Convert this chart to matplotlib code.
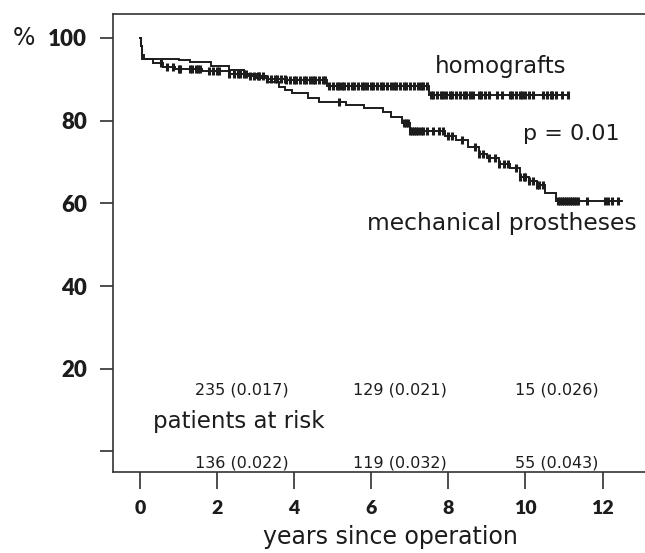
import numpy as np
import matplotlib
matplotlib.use("Agg")
import matplotlib.pyplot as plt

# ---- data ----
homograft_times = [0, 0.02, 0.05, 0.1, 0.35, 0.6, 0.9, 1.6, 2.3, 2.8, 3.3, 3.8, 4.85, 7.5]
homograft_surv = [100, 98, 96, 95, 94, 93, 92.5, 92, 91.3, 90.8, 90.2, 89.8, 88.3, 86.3]
homograft_end = 11.1
homograft_censors = [0.55, 0.7, 0.85, 1.0, 1.05, 1.3, 1.35, 1.45, 1.5, 1.55, 1.8, 1.9, 2.0,
                     2.05, 2.3, 2.45, 2.55, 2.6, 2.7, 2.75, 2.85, 2.95, 3.05, 3.1, 3.2, 3.3,
                     3.4, 3.5, 3.55, 3.65, 3.75, 3.8, 3.9, 4.0, 4.05, 4.15, 4.25, 4.3, 4.4,
                     4.5, 4.55, 4.65, 4.75, 4.8, 4.9, 5.0, 5.1, 5.15, 5.25, 5.3, 5.4, 5.5,
                     5.55, 5.65, 5.75, 5.8, 5.9, 6.0, 6.05, 6.15, 6.25, 6.3, 6.4, 6.5, 6.6,
                     6.65, 6.75, 6.85, 6.9, 7.0, 7.1, 7.2, 7.3, 7.35, 7.45, 7.55, 7.6, 7.7,
                     7.8, 7.85, 7.95, 8.05, 8.1, 8.2, 8.3, 8.4, 8.45, 8.55, 8.65, 8.8, 8.85,
                     8.95, 9.05, 9.25, 9.4, 9.6, 9.65, 9.75, 9.85, 9.9, 10.0, 10.1, 10.2,
                     10.45, 10.55, 10.65, 10.7, 10.8, 10.95, 11.1]

mech_times = [0, 0.02, 0.05, 1.0, 1.3, 1.85, 2.3, 2.7, 3.0, 3.3, 3.6, 3.75, 3.95, 4.35,
              4.65, 5.35, 5.8, 6.3, 6.5, 6.8, 7.0, 7.9, 8.2, 8.5, 8.8, 9.0, 9.3, 9.6,
              9.85, 10.1, 10.3, 10.5, 10.8]
mech_surv = [100, 98, 95, 94.7, 94.2, 93.2, 92.3, 91.3, 90.3, 89.4, 88.2, 87.4, 86.6,
             85.4, 84.6, 83.8, 83.0, 82.0, 81.0, 79.5, 77.5, 76.3, 75.3, 73.7, 72.0,
             71.0, 69.5, 68.5, 66.5, 65.5, 64.5, 62.5, 60.5]
mech_end = 12.5
mech_censors = [5.15, 6.85, 6.9, 6.95, 7.0, 7.05, 7.1, 7.15, 7.2, 7.3, 7.35, 7.45, 7.6,
                7.75, 7.85, 8.0, 8.1, 8.35, 8.7, 8.8, 8.9, 9.05, 9.2, 9.3, 9.45, 9.55,
                9.75, 9.85, 9.95, 10.0, 10.1, 10.2, 10.3, 10.35, 10.45, 10.85, 10.9,
                10.95, 11.0, 11.05, 11.1, 11.15, 11.2, 11.25, 11.3, 11.35, 11.6, 12.05,
                12.15, 12.25, 12.4]

x_ticks = [0, 2, 4, 6, 8, 10, 12]
y_ticks = [0, 20, 40, 60, 80, 100]
y_tick_labels = ["", "20", "40", "60", "80", "100"]

risk_x = [2.65, 6.74, 10.8]
risk_homograft = ["235 (0.017)", "129 (0.021)", "15 (0.026)"]
risk_mech = ["136 (0.022)", "119 (0.032)", "55 (0.043)"]

TICKFONT = ["Lato", "DejaVu Sans"]
FONT = ["DejaVu Sans"]
INK = "#1c1c1c"


def step_value(times, surv, t):
    idx = np.searchsorted(np.asarray(times), np.asarray(t), side="right") - 1
    return np.asarray(surv)[idx]


fig = plt.figure(figsize=(6.45, 5.53), dpi=100)
ax = fig.add_axes([113 / 645, 81 / 553, 1 - 113 / 645, (472 - 14) / 553])

for times, surv, end, cens in [
    (homograft_times, homograft_surv, homograft_end, homograft_censors),
    (mech_times, mech_surv, mech_end, mech_censors),
]:
    ax.step(list(times) + [end], list(surv) + [surv[-1]], where="post",
            color=INK, lw=1.4, solid_joinstyle="miter")
    ax.plot(cens, step_value(times, surv, cens), ls="none", marker="|",
            ms=6, mew=2.2, color=INK)

ax.set_xlim(-0.7, 13.1)
ax.set_ylim(-4.96, 105.8)

ax.set_xticks(x_ticks)
ax.set_xticklabels([str(v) for v in x_ticks])
ax.set_yticks(y_ticks)
ax.set_yticklabels(y_tick_labels)

for s in ["left", "top", "bottom"]:
    ax.spines[s].set_color("#333333")
    ax.spines[s].set_linewidth(1.2)
ax.spines["right"].set_visible(False)

ax.tick_params(axis="x", length=12, width=1.1, pad=8, colors=INK, labelsize=14)
ax.tick_params(axis="y", length=9.5, width=1.1, pad=9, colors=INK, labelsize=16)
for lab in ax.get_xticklabels() + ax.get_yticklabels():
    lab.set_fontfamily(TICKFONT)
    lab.set_fontweight("heavy")

fig.text(13 / 645, 1 - 38 / 553, "%", ha="left", va="center", fontsize=17,
         family=FONT, color=INK)

fig.text(390 / 645, 1 - 544 / 553, "years since operation", fontsize=17,
         family=FONT, color=INK, ha="center", va="baseline")

ax.text(7.65, 91.5, "homografts", fontsize=16.5, family=FONT, color=INK,
        ha="left", va="baseline")
ax.text(9.94, 75.3, "p = 0.01", fontsize=16, family=FONT, color=INK,
        ha="left", va="baseline")
ax.text(5.89, 53.6, "mechanical prostheses", fontsize=16.8, family=FONT, color=INK,
        ha="left", va="baseline")
ax.text(0.34, 5.75, "patients at risk", fontsize=16.5, family=FONT, color=INK,
        ha="left", va="baseline")

for xv, lab in zip(risk_x, risk_homograft):
    ax.text(xv, 13.8, lab, fontsize=11.5, family=FONT, color=INK,
            ha="center", va="baseline")
for xv, lab in zip(risk_x, risk_mech):
    ax.text(xv, -3.9, lab, fontsize=11.5, family=FONT, color=INK,
            ha="center", va="baseline")

fig.savefig("out.png", dpi=100)
